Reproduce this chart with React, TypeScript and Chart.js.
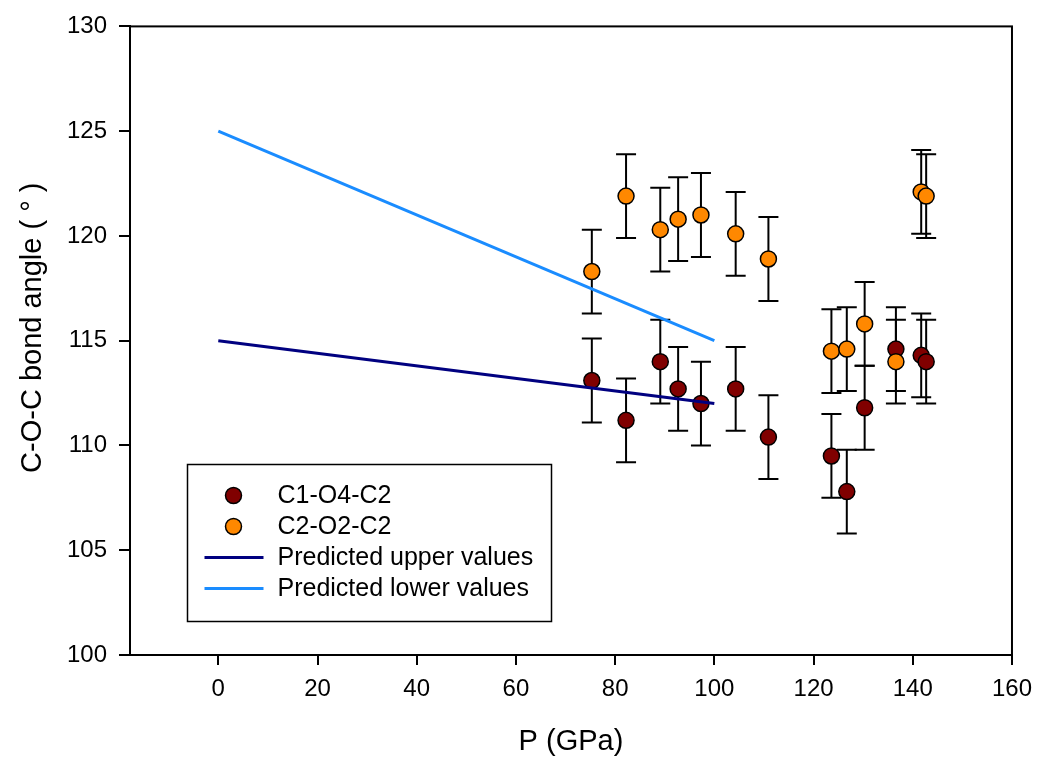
import React, { useEffect, useRef } from 'react';
import { Chart, registerables } from 'chart.js';

Chart.register(...registerables);

// ---- Data ----
const pressureGPa = [75.3, 82.2, 89.1, 92.7, 97.3, 104.3, 110.9, 123.6, 126.7, 130.3, 136.6, 141.7, 142.7];
const angleC1O4C2 = [113.1, 111.2, 114.0, 112.7, 112.0, 112.7, 110.4, 109.5, 107.8, 111.8, 114.6, 114.3, 114.0];
const errC1O4C2 = [2, 2, 2, 2, 2, 2, 2, 2, 2, 2, 2, 2, 2];
const angleC2O2C2 = [118.3, 121.9, 120.3, 120.8, 121.0, 120.1, 118.9, 114.5, 114.6, 115.8, 114.0, 122.1, 121.9];
const errC2O2C2 = [2, 2, 2, 2, 2, 2, 2, 2, 2, 2, 2, 2, 2];

const predPressure = [0, 100];
const predictedUpper = [115, 112];
const predictedLower = [125, 115];

const xTicks = [0, 20, 40, 60, 80, 100, 120, 140, 160];
const yTicks = [100, 105, 110, 115, 120, 125, 130];

const yTitle = 'C-O-C bond angle ( ° )';
const xTitle = 'P (GPa)';

const FONT = "'Liberation Sans', Arial, Helvetica, sans-serif";

const toPoints = (xs: number[], ys: number[]) => xs.map((x, i) => ({ x, y: ys[i] }));

const errorBarPlugin = {
  id: 'errorBars',
  beforeDatasetsDraw(chart: any) {
    const { ctx } = chart;
    const yScale = chart.scales.y;
    chart.data.datasets.forEach((ds: any, i: number) => {
      if (!ds.errors) return;
      const meta = chart.getDatasetMeta(i);
      meta.data.forEach((pt: any, j: number) => {
        const v = ds.data[j].y;
        const e = ds.errors[j];
        const top = yScale.getPixelForValue(v + e);
        const bot = yScale.getPixelForValue(v - e);
        ctx.save();
        ctx.strokeStyle = '#000';
        ctx.lineWidth = 2;
        ctx.beginPath();
        ctx.moveTo(pt.x, top);
        ctx.lineTo(pt.x, bot);
        ctx.moveTo(pt.x - 10, top);
        ctx.lineTo(pt.x + 10, top);
        ctx.moveTo(pt.x - 10, bot);
        ctx.lineTo(pt.x + 10, bot);
        ctx.stroke();
        ctx.restore();
      });
    });
  },
};

const framePlugin = {
  id: 'frame',
  beforeDatasetsDraw(chart: any) {
    const { ctx, chartArea: a } = chart;
    ctx.save();
    ctx.strokeStyle = '#000';
    ctx.lineWidth = 2;
    ctx.strokeRect(a.left, a.top, a.right - a.left, a.bottom - a.top);
    ctx.restore();
  },
};

const yTitlePlugin = {
  id: 'yTitle',
  afterDraw(chart: any) {
    const { ctx, chartArea: a } = chart;
    ctx.save();
    ctx.translate(33, (a.top + a.bottom) / 2 - 13);
    ctx.rotate(-Math.PI / 2);
    ctx.font = `29px ${FONT}`;
    ctx.fillStyle = '#000';
    ctx.textAlign = 'center';
    ctx.textBaseline = 'middle';
    ctx.fillText(yTitle, 0, 0);
    ctx.restore();
  },
};

const legendBoxPlugin = {
  id: 'legendBox',
  afterDraw(chart: any) {
    const { ctx, chartArea: a } = chart;
    const left = a.left + 57.5;
    const top = a.bottom - 190.5;
    const w = 364;
    const h = 157;
    ctx.save();
    ctx.strokeStyle = '#000';
    ctx.lineWidth = 1.5;
    ctx.fillStyle = '#fff';
    ctx.fillRect(left, top, w, h);
    ctx.strokeRect(left, top, w, h);
    ctx.font = `25px ${FONT}`;
    ctx.textBaseline = 'middle';
    ctx.textAlign = 'left';
    chart.data.datasets.forEach((ds: any, i: number) => {
      const y = top + 31 + i * 31;
      const cx = left + 46;
      if (ds.showLine) {
        ctx.strokeStyle = ds.borderColor;
        ctx.lineWidth = 3;
        ctx.beginPath();
        ctx.moveTo(left + 17, y);
        ctx.lineTo(left + 76, y);
        ctx.stroke();
      } else {
        ctx.fillStyle = ds.backgroundColor;
        ctx.strokeStyle = '#000';
        ctx.lineWidth = 1.5;
        ctx.beginPath();
        ctx.arc(cx, y, 8, 0, Math.PI * 2);
        ctx.fill();
        ctx.stroke();
      }
      ctx.fillStyle = '#000';
      ctx.fillText(ds.label, left + 90, y + 1);
    });
    ctx.restore();
  },
};

export default function App() {
  const ref = useRef<HTMLCanvasElement>(null);
  useEffect(() => {
    document.body.style.margin = '0';
    const canvas = ref.current!;
    const chart = new Chart(canvas, {
      type: 'scatter',
      data: {
        datasets: [
          {
            label: 'C1-O4-C2',
            data: toPoints(pressureGPa, angleC1O4C2),
            errors: errC1O4C2,
            backgroundColor: '#800000',
            borderColor: '#000',
            pointRadius: 8,
            pointBorderWidth: 1.5,
            order: 3,
          } as any,
          {
            label: 'C2-O2-C2',
            data: toPoints(pressureGPa, angleC2O2C2),
            errors: errC2O2C2,
            backgroundColor: '#ff8800',
            borderColor: '#000',
            pointRadius: 8,
            pointBorderWidth: 1.5,
            order: 2,
          } as any,
          {
            label: 'Predicted upper values',
            data: toPoints(predPressure, predictedUpper),
            showLine: true,
            borderColor: '#000080',
            backgroundColor: '#000080',
            borderWidth: 3,
            pointRadius: 0,
            order: 1,
          },
          {
            label: 'Predicted lower values',
            data: toPoints(predPressure, predictedLower),
            showLine: true,
            borderColor: '#1a8cff',
            backgroundColor: '#1a8cff',
            borderWidth: 3,
            pointRadius: 0,
            order: 0,
          },
        ],
      },
      options: {
        responsive: false,
        animation: false,
        devicePixelRatio: 1,
        layout: { padding: { top: 22, right: 23, left: 0, bottom: 0 } },
        plugins: {
          legend: { display: false },
          tooltip: { enabled: false },
        },
        scales: {
          x: {
            type: 'linear',
            min: -17.8,
            max: 160,
            afterBuildTicks: (s: any) => {
              s.ticks = xTicks.map((v) => ({ value: v }));
            },
            afterFit: (s: any) => {
              s.height = 104;
            },
            grid: { display: true, drawOnChartArea: false, drawTicks: true, tickLength: 10, color: '#000', lineWidth: 2 },
            border: { display: true, color: '#000', width: 2 },
            ticks: { color: '#000', font: { family: FONT, size: 24 }, padding: 10, maxRotation: 0, autoSkip: false },
            title: {
              display: true,
              text: xTitle,
              color: '#000',
              font: { family: FONT, size: 29 },
              padding: { top: 0, bottom: 0 },
            },
          },
          y: {
            type: 'linear',
            min: 100,
            max: 130,
            afterBuildTicks: (s: any) => {
              s.ticks = yTicks.map((v) => ({ value: v }));
            },
            afterFit: (s: any) => {
              s.width = 130;
            },
            grid: { display: true, drawOnChartArea: false, drawTicks: true, tickLength: 11, color: '#000', lineWidth: 2 },
            border: { display: true, color: '#000', width: 2 },
            ticks: { color: '#000', font: { family: FONT, size: 24 }, padding: 12, autoSkip: false },
            title: { display: false },
          },
        },
      } as any,
      plugins: [framePlugin, errorBarPlugin, legendBoxPlugin, yTitlePlugin],
    });
    return () => chart.destroy();
  }, []);
  return (
    <div style={{ width: 1042, height: 759 }}>
      <canvas ref={ref} width={1042} height={759} style={{ display: 'block' }} />
    </div>
  );
}
